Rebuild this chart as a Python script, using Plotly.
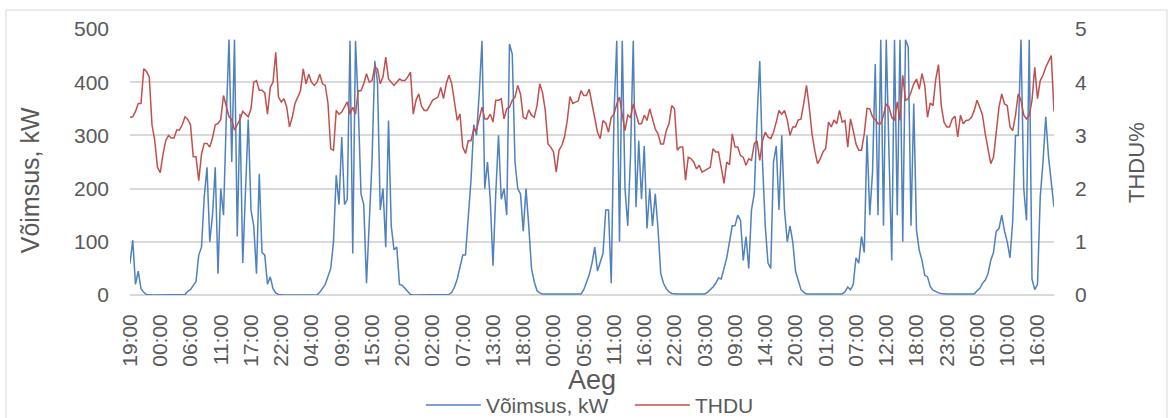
import pandas as pd
import plotly.graph_objects as go

# Half-hourly timestamps (start 19:00), 337 points
start_time = "2020-01-01 19:00"
n_points = 337
times = pd.date_range(start_time, periods=n_points, freq="30min")

power_kw = [
    59, 103, 20, 45, 12, 5, 1, 0, 0, 0,
    0, 0, 0, 0, 0, 0, 0, 0, 0, 0,
    1, 7, 10, 18, 25, 75, 90, 185, 240, 100,
    150, 240, 40, 200, 150, 330, 480, 250, 480, 110,
    340, 60, 180, 330, 160, 130, 40, 228, 80, 75,
    20, 34, 12, 4, 1, 0, 0, 0, 0, 0,
    0, 0, 0, 0, 0, 0, 0, 0, 0, 5,
    12, 20, 35, 50, 100, 225, 170, 297, 170, 180,
    478, 78, 478, 356, 190, 170, 22, 140, 250, 440,
    400, 160, 200, 90, 328, 130, 85, 90, 20, 18,
    12, 5, 1, 0, 0, 0, 0, 0, 0, 0,
    0, 0, 0, 0, 0, 0, 1, 5, 15, 30,
    50, 75, 75, 150, 216, 320, 300, 380, 478, 200,
    250, 180, 55, 190, 300, 180, 200, 150, 472, 453,
    250, 200, 190, 120, 200, 130, 50, 25, 8, 4,
    2, 2, 2, 2, 2, 2, 2, 2, 2, 2,
    2, 2, 2, 2, 2, 10, 25, 38, 60, 90,
    45, 60, 78, 160, 160, 22, 340, 478, 100, 478,
    200, 130, 260, 478, 165, 290, 180, 280, 125, 200,
    130, 190, 125, 40, 22, 12, 6, 3, 2, 2,
    2, 2, 2, 2, 2, 2, 2, 2, 2, 2,
    5, 10, 15, 22, 32, 30, 50, 70, 100, 130,
    130, 150, 140, 65, 110, 50, 160, 190, 330, 440,
    250, 130, 60, 50, 250, 280, 160, 300, 160, 100,
    130, 100, 45, 25, 10, 5, 2, 2, 2, 2,
    2, 2, 2, 2, 2, 2, 2, 2, 2, 2,
    6, 15, 10, 20, 70, 60, 110, 80, 300, 150,
    230, 434, 150, 480, 130, 480, 265, 65, 480, 150,
    480, 100, 480, 466, 130, 360, 122, 84, 65, 37,
    34, 16, 9, 6, 4, 3, 2, 2, 2, 2,
    2, 2, 2, 2, 2, 2, 2, 2, 8, 12,
    22, 28, 40, 65, 80, 120, 125, 150, 120, 100,
    70, 140, 300, 300, 480, 200, 140, 480, 30, 10,
    20, 185, 250, 335, 260, 215, 165,
]

thdu_pct = [
    3.34, 3.35, 3.45, 3.6, 3.6, 4.25, 4.2, 4.1, 3.2, 2.9,
    2.4, 2.3, 2.65, 2.9, 3.0, 2.95, 2.95, 3.1, 3.1, 3.2,
    3.35, 3.3, 3.2, 2.6, 2.6, 2.15, 2.65, 2.85, 2.85, 2.78,
    2.95, 3.2, 3.22, 3.3, 3.75, 3.55, 3.35, 3.3, 3.1, 3.2,
    3.3, 3.45, 3.4, 3.35, 3.5, 4.0, 4.03, 3.85, 3.85, 3.8,
    3.4, 3.9, 4.0, 4.56, 3.72, 3.63, 3.69, 3.53, 3.16, 3.34,
    3.6, 3.72, 3.84, 4.25, 3.97, 4.15, 4.0, 3.94, 4.0, 4.15,
    3.97, 3.94, 3.6, 2.75, 2.72, 3.47, 3.4, 3.44, 3.53, 3.63,
    3.4, 3.53, 3.4, 3.84, 3.84, 3.97, 4.16, 4.0, 4.03, 4.28,
    4.25, 3.97, 4.1, 4.47, 4.06, 4.0, 3.94, 4.0, 4.06, 4.03,
    4.03, 4.1, 4.19, 3.4, 3.66, 3.78, 3.55, 3.47, 3.47, 3.56,
    3.66, 3.69, 3.72, 3.9, 3.69, 3.97, 4.13, 3.97, 3.63, 3.28,
    3.4, 2.78, 2.66, 2.9, 2.9, 3.12, 3.1, 3.34, 3.53, 3.31,
    3.31, 3.4, 3.25, 3.66, 3.66, 3.69, 3.31, 3.5, 3.53, 3.66,
    3.72, 3.94, 3.78, 3.34, 3.31, 3.48, 3.38, 3.34, 3.56, 3.97,
    3.81, 3.47, 2.84, 2.78, 2.69, 2.31, 2.72, 2.81, 2.97, 3.28,
    3.73, 3.6, 3.63, 3.65, 3.84, 3.75, 3.75, 3.87, 3.59, 3.34,
    3.06, 2.94, 3.28, 3.23, 3.06, 3.34, 3.4, 3.59, 3.72, 3.38,
    3.09, 3.38, 3.34, 3.59, 3.4, 3.22, 3.22, 3.38, 3.28, 3.5,
    3.31, 3.12, 3.03, 2.84, 2.84, 3.09, 3.22, 3.56, 3.5, 2.72,
    2.78, 2.78, 2.16, 2.59, 2.56, 2.5, 2.37, 2.44, 2.31, 2.34,
    2.37, 2.4, 2.75, 2.69, 2.69, 2.35, 2.1, 2.5, 2.45, 3.03,
    2.78, 2.78, 2.62, 2.59, 2.44, 2.56, 2.53, 2.84, 2.9, 2.53,
    2.9, 3.06, 2.97, 2.94, 3.06, 3.25, 3.47, 3.4, 3.47, 3.29,
    3.0, 3.16, 3.16, 3.29, 3.31, 3.6, 3.94, 3.53, 3.03, 2.72,
    2.47, 2.56, 2.69, 2.76, 3.25, 3.16, 3.29, 3.22, 3.47, 3.25,
    3.28, 2.78, 3.31, 3.09, 2.84, 2.72, 2.72, 3.03, 3.51, 3.5,
    3.35, 3.3, 3.22, 3.22, 3.38, 3.59, 3.53, 3.34, 3.28, 3.63,
    3.28, 4.13, 3.66, 3.69, 3.81, 3.97, 4.06, 3.87, 4.16, 3.94,
    3.34, 3.61, 3.56, 4.06, 4.33, 3.56, 3.25, 3.16, 3.16, 3.31,
    3.36, 2.97, 3.38, 3.22, 3.28, 3.29, 3.34, 3.47, 3.66, 3.53,
    3.38, 3.03, 2.72, 2.47, 2.59, 3.03, 3.53, 3.78, 3.59, 3.56,
    3.16, 3.09, 3.38, 3.78, 3.66, 3.38, 3.31, 3.38, 3.66, 4.28,
    3.69, 4.03, 4.13, 4.28, 4.38, 4.5, 3.45,
]

label_step = 11
tick_vals = list(times[::label_step])
# the source chart shows the hour only (minutes dropped)
tick_text = [t.strftime("%H:00") for t in tick_vals]

FONT = "Liberation Sans, Arial, sans-serif"
GREY = "#595959"
GRID = "#d9d9d9"

fig = go.Figure()
fig.add_trace(go.Scatter(
    x=times, y=thdu_pct, name="THDU", yaxis="y2", mode="lines",
    line=dict(color="#C0504D", width=1.5), legendrank=2,
))
fig.add_trace(go.Scatter(
    x=times, y=power_kw, name="Võimsus, kW", mode="lines",
    line=dict(color="#4F81BD", width=1.5), legendrank=1,
))

fig.update_layout(
    width=1174, height=418,
    margin=dict(l=130, r=120, t=29, b=123, autoexpand=False),
    paper_bgcolor="white", plot_bgcolor="white",
    font=dict(family=FONT, color=GREY, size=20),
    showlegend=True,
    legend=dict(orientation="h", x=0.541, xanchor="center", y=-0.415, yanchor="middle",
                font=dict(size=21, color=GREY), traceorder="normal",
                itemwidth=55, entrywidth=139, entrywidthmode="pixels",
                bgcolor="rgba(0,0,0,0)"),
    xaxis=dict(
        range=[times[0], times[-1]], tickmode="array", tickvals=tick_vals, ticktext=tick_text,
        tickangle=-90, tickfont=dict(size=21, color=GREY), showgrid=False,
        showline=False, zeroline=False, ticks="", ticklabelstandoff=14, automargin=False,
    ),
    yaxis=dict(
        range=[0, 500], dtick=100, tickfont=dict(size=21, color=GREY),
        showgrid=True, gridcolor=GRID, gridwidth=1.5,
        zeroline=True, zerolinecolor=GRID, zerolinewidth=1.5,
        showline=False, ticks="", ticklabelstandoff=20, automargin=False,
    ),
    yaxis2=dict(
        range=[0, 5], dtick=1, overlaying="y", side="right",
        tickfont=dict(size=21, color=GREY), showgrid=False, zeroline=False,
        showline=False, ticks="", ticklabelstandoff=20, automargin=False,
    ),
    shapes=[dict(type="rect", xref="paper", yref="paper",
                 x0=-0.1342, x1=1.1223, y0=-0.5, y1=1.0714,
                 line=dict(color=GRID, width=1), fillcolor="rgba(0,0,0,0)", layer="below")],
    annotations=[
        dict(text="Võimsus, kW", xref="paper", yref="paper", x=-0.108, y=0.432,
             textangle=-90, showarrow=False, xanchor="center", yanchor="middle",
             font=dict(size=25, color=GREY)),
        dict(text="THDU%", xref="paper", yref="paper", x=1.0887, y=0.5,
             textangle=-90, showarrow=False, xanchor="center", yanchor="middle",
             font=dict(size=22, color=GREY)),
        dict(text="Aeg", xref="paper", yref="paper", x=0.5, y=-0.3195,
             showarrow=False, xanchor="center", yanchor="middle",
             font=dict(size=27, color=GREY)),
    ],
)

fig.write_html("out.html")
